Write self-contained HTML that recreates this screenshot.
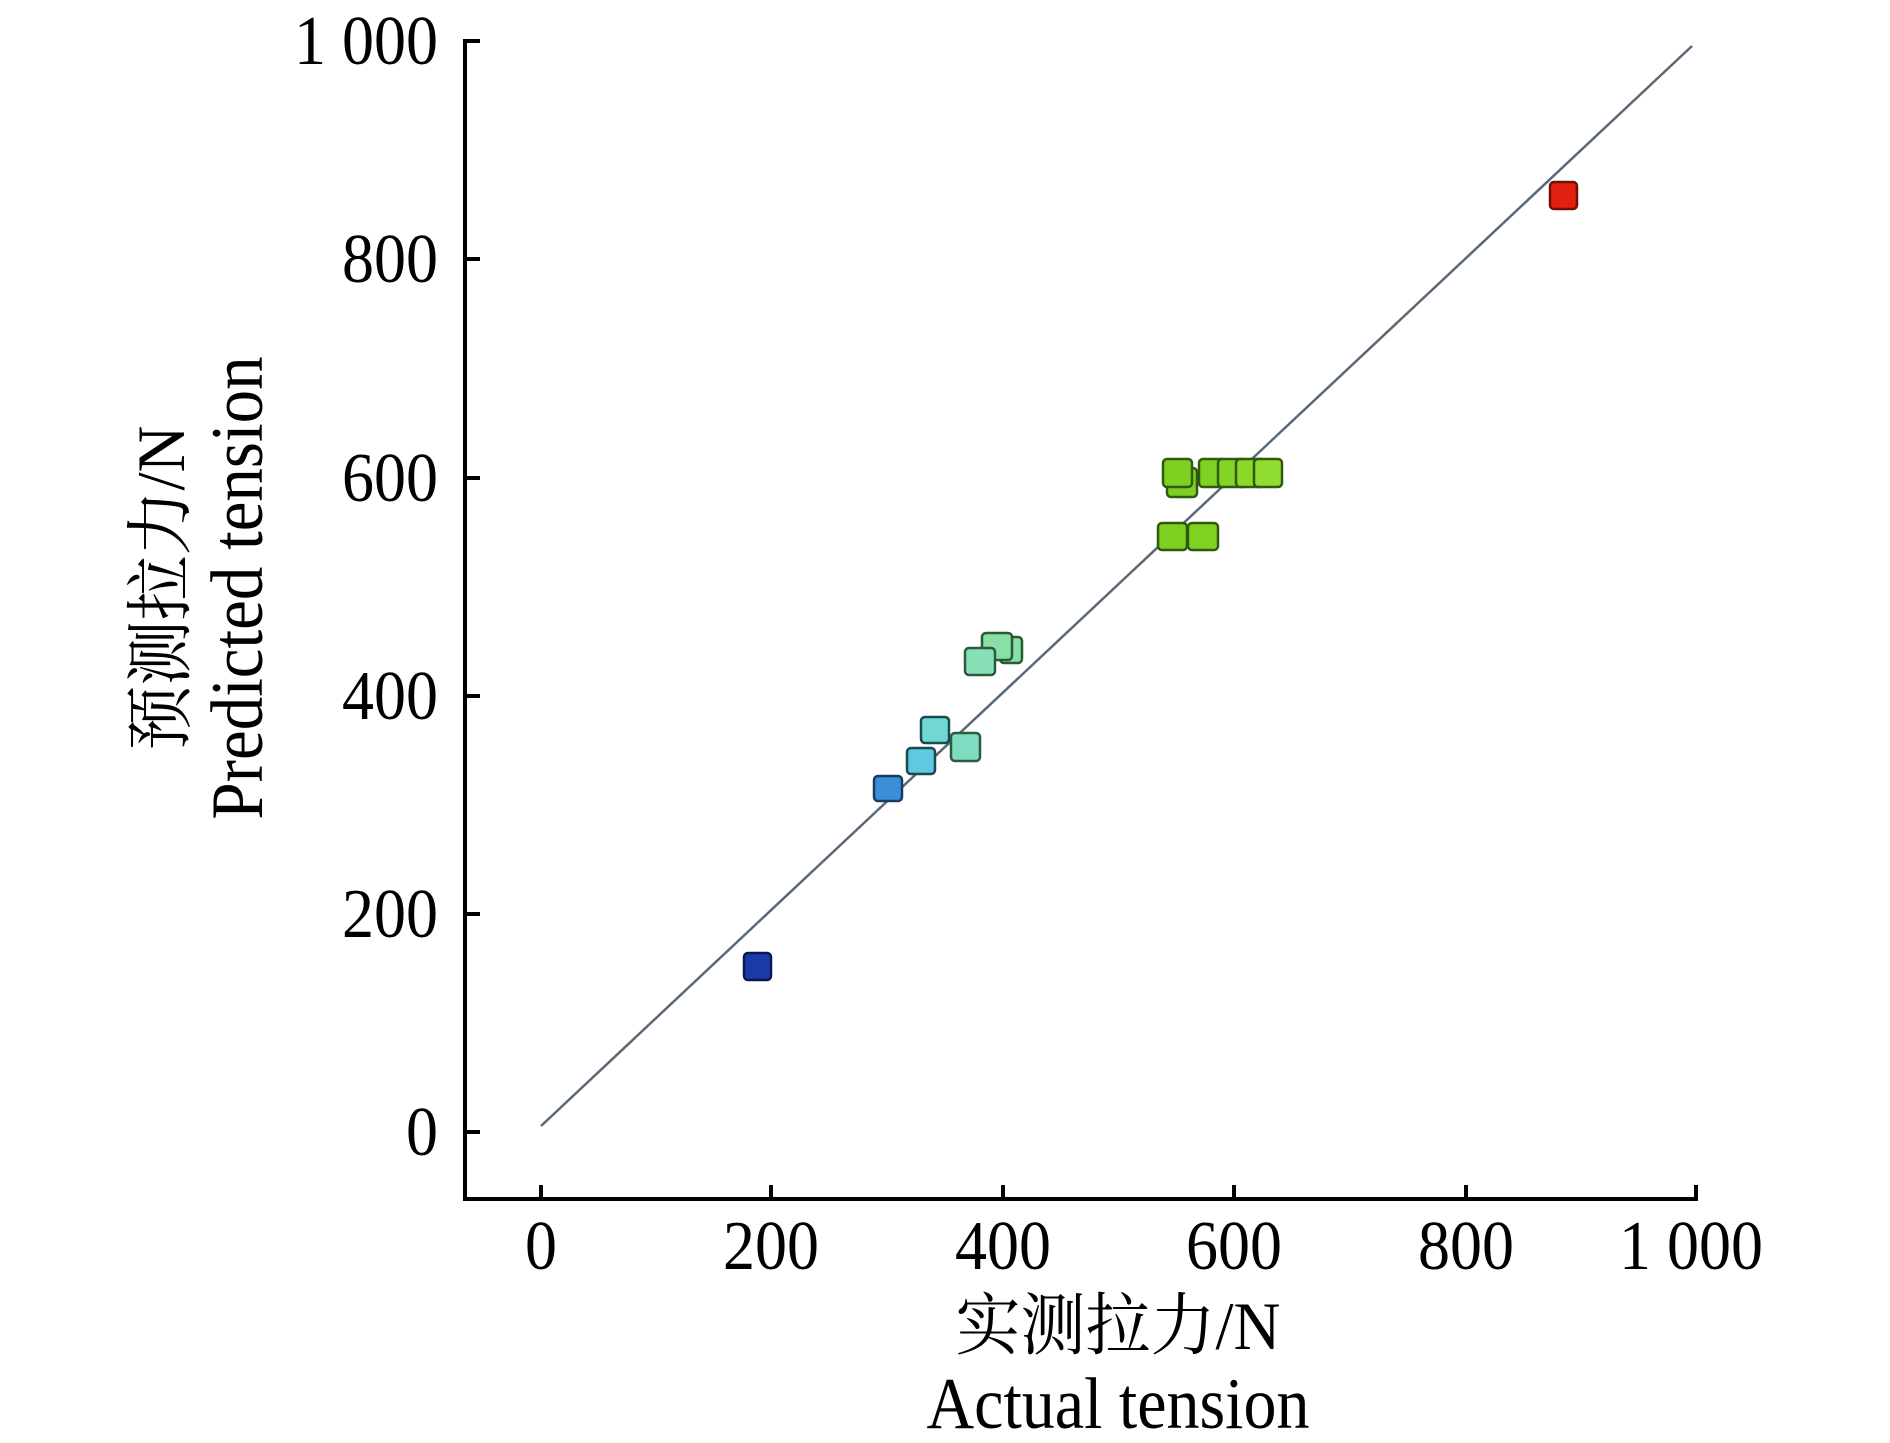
<!DOCTYPE html>
<html><head><meta charset="utf-8"><style>
html,body{margin:0;padding:0;background:#fff}
svg{display:block}
text{font-family:"Liberation Serif","Noto Serif CJK SC",serif;fill:#000}
</style></head><body>
<svg width="1890" height="1443" viewBox="0 0 1890 1443">
<g stroke="#000" stroke-width="4" fill="none">
<line x1="465" y1="39" x2="465" y2="1200"/>
<line x1="463" y1="1199" x2="1698" y2="1199"/>
<line x1="465" y1="41" x2="480" y2="41"/>
<line x1="465" y1="259" x2="480" y2="259"/>
<line x1="465" y1="478" x2="480" y2="478"/>
<line x1="465" y1="696" x2="480" y2="696"/>
<line x1="465" y1="914" x2="480" y2="914"/>
<line x1="465" y1="1132" x2="480" y2="1132"/>
<line x1="541" y1="1199" x2="541" y2="1185"/>
<line x1="771" y1="1199" x2="771" y2="1185"/>
<line x1="1003" y1="1199" x2="1003" y2="1185"/>
<line x1="1234" y1="1199" x2="1234" y2="1185"/>
<line x1="1466" y1="1199" x2="1466" y2="1185"/>
<line x1="1696" y1="1199" x2="1696" y2="1185"/>
</g>
<line x1="541" y1="1126" x2="1692" y2="46" stroke="#5a6878" stroke-width="2.5"/>
<g font-size="64" text-anchor="end">
<text transform="translate(438,64) scale(1,1.1)">1 000</text>
<text transform="translate(438,282) scale(1,1.1)">800</text>
<text transform="translate(438,501) scale(1,1.1)">600</text>
<text transform="translate(438,719) scale(1,1.1)">400</text>
<text transform="translate(438,937) scale(1,1.1)">200</text>
<text transform="translate(438,1155) scale(1,1.1)">0</text>
</g>
<g font-size="64" text-anchor="middle">
<text transform="translate(541,1269) scale(1,1.1)">0</text>
<text transform="translate(771,1269) scale(1,1.1)">200</text>
<text transform="translate(1003,1269) scale(1,1.1)">400</text>
<text transform="translate(1234,1269) scale(1,1.1)">600</text>
<text transform="translate(1466,1269) scale(1,1.1)">800</text>
<text transform="translate(1691,1269) scale(1,1.1)">1 000</text>
<text transform="translate(1118,1349) scale(1,1.05)" font-size="65">实测拉力/N</text>
<text transform="translate(1118,1428) scale(1,1.1)" font-size="66">Actual tension</text>
</g>
<g transform="translate(0,588) rotate(-90)" text-anchor="middle">
<text transform="translate(0,184) scale(1,1.05)" font-size="65">预测拉力/N</text>
<text transform="translate(0,262) scale(1,1.1)" font-size="67">Predicted tension</text>
</g>
<g stroke-width="2.5">
<rect x="1550" y="182" width="27" height="27" rx="4" fill="#e22010" stroke="#701008"/>
<rect x="744" y="953" width="27" height="27" rx="4" fill="#1a3aa8" stroke="#0a1850"/>
<rect x="874" y="776" width="28" height="25" rx="4" fill="#3a90d8" stroke="#1a3a60"/>
<rect x="907" y="748" width="28" height="26" rx="4" fill="#60c8e0" stroke="#1a4a50"/>
<rect x="951" y="733" width="29" height="28" rx="4" fill="#80dcc0" stroke="#2a5a40"/>
<rect x="921" y="717" width="28" height="26" rx="4" fill="#70d8d0" stroke="#1a4a50"/>
<rect x="1000" y="637" width="22" height="26" rx="4" fill="#88e0a8" stroke="#2a5a30"/>
<rect x="982" y="633" width="30" height="27" rx="4" fill="#88e0a8" stroke="#2a5a30"/>
<rect x="965" y="648" width="30" height="27" rx="4" fill="#88e0b8" stroke="#2a5a40"/>
<rect x="1167" y="468" width="30" height="29" rx="4" fill="#7ed020" stroke="#2f5a10"/>
<rect x="1163" y="459" width="29" height="28" rx="4" fill="#7ed020" stroke="#2f5a10"/>
<rect x="1199" y="459" width="28" height="28" rx="4" fill="#80d222" stroke="#2f5a10"/>
<rect x="1218" y="459" width="28" height="28" rx="4" fill="#84d428" stroke="#2f5a10"/>
<rect x="1236" y="459" width="28" height="28" rx="4" fill="#8ad82c" stroke="#2f5a10"/>
<rect x="1254" y="459" width="28" height="28" rx="4" fill="#90dc30" stroke="#2f5a10"/>
<rect x="1158" y="523" width="29" height="27" rx="4" fill="#7ed020" stroke="#2f5a10"/>
<rect x="1188" y="523" width="30" height="27" rx="4" fill="#80d222" stroke="#2f5a10"/>
</g>
</svg>
</body></html>
